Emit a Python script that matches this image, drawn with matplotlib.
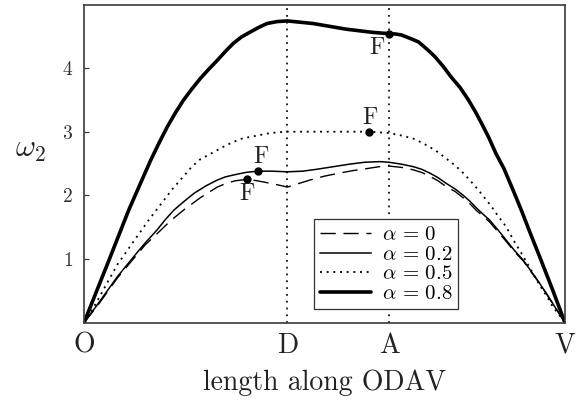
import numpy as np
import matplotlib
matplotlib.use("Agg")
import matplotlib.pyplot as plt

plt.rcParams["font.family"] = "serif"
plt.rcParams["font.serif"] = ["cmr10", "DejaVu Serif"]
plt.rcParams["mathtext.fontset"] = "cm"
plt.rcParams["axes.formatter.use_mathtext"] = True
plt.rcParams["axes.unicode_minus"] = False
plt.rcParams["lines.scale_dashes"] = False

# path ODAV: positions of the corner points along the path
path_ticks = [0.0, 2.0, 3.0, 4.73]
path_labels = ["O", "D", "A", "V"]

# alpha = 0 (dashed)
x_a0 = [0, 0.13, 0.327, 0.49, 0.6, 0.72, 0.85, 0.98, 1.15, 1.31, 1.4, 1.49, 1.6,
        1.7, 1.83, 1.92, 2.0, 2.1, 2.22, 2.36, 2.51, 2.65, 2.78, 2.9, 3.0, 3.12,
        3.24, 3.32, 3.40, 3.48, 3.56, 3.65, 3.73, 3.80, 3.86, 3.92, 3.99, 4.07,
        4.15, 4.23, 4.32, 4.40, 4.48, 4.55, 4.61, 4.67, 4.73]
w_a0 = [0, 0.26, 0.70, 1.01, 1.22, 1.40, 1.60, 1.77, 1.97, 2.13, 2.19, 2.23, 2.25,
        2.23, 2.19, 2.16, 2.13, 2.18, 2.24, 2.30, 2.35, 2.39, 2.42, 2.45, 2.46, 2.44,
        2.40, 2.36, 2.30, 2.23, 2.14, 2.06, 1.96, 1.86, 1.76, 1.68, 1.58, 1.43,
        1.28, 1.12, 0.97, 0.79, 0.62, 0.45, 0.30, 0.15, 0]

# alpha = 0.2 (thin solid)
x_a2 = [0, 0.13, 0.327, 0.49, 0.6, 0.72, 0.8, 0.885, 0.98, 1.08, 1.2, 1.31, 1.39,
        1.47, 1.59, 1.71, 1.85, 2.0, 2.15, 2.29, 2.45, 2.61, 2.76, 2.91, 3.0, 3.12,
        3.24, 3.32, 3.40, 3.48, 3.56, 3.65, 3.73, 3.80, 3.86, 3.92, 3.99, 4.07,
        4.15, 4.23, 4.32, 4.40, 4.48, 4.55, 4.61, 4.67, 4.73]
w_a2 = [0, 0.28, 0.72, 1.04, 1.25, 1.46, 1.62, 1.77, 1.90, 2.03, 2.15, 2.24, 2.29,
        2.32, 2.36, 2.38, 2.38, 2.37, 2.38, 2.41, 2.45, 2.49, 2.52, 2.53, 2.52, 2.49,
        2.45, 2.41, 2.35, 2.28, 2.19, 2.10, 2.00, 1.90, 1.80, 1.71, 1.61, 1.46,
        1.30, 1.14, 0.98, 0.80, 0.62, 0.45, 0.30, 0.15, 0]

# alpha = 0.5 (dotted)
x_a5 = [0, 0.098, 0.327, 0.52, 0.64, 0.75, 0.87, 0.98, 1.06, 1.146, 1.23, 1.31,
        1.39, 1.47, 1.55, 1.64, 1.80, 1.9, 2.0, 2.8, 3.0, 3.12, 3.24, 3.32, 3.40,
        3.48, 3.56, 3.65, 3.73, 3.81, 3.89, 4.0, 4.07, 4.15, 4.23, 4.32, 4.40,
        4.48, 4.55, 4.61, 4.67, 4.73]
w_a5 = [0, 0.25, 0.91, 1.35, 1.62, 1.85, 2.10, 2.30, 2.45, 2.57, 2.64, 2.71,
        2.78, 2.84, 2.89, 2.92, 2.97, 2.99, 3.0, 3.0, 2.98, 2.94, 2.89, 2.83, 2.76,
        2.68, 2.58, 2.47, 2.35, 2.21, 2.06, 1.84, 1.68, 1.51, 1.28, 1.04, 0.82,
        0.59, 0.42, 0.25, 0.13, 0]

# alpha = 0.8 (thick solid)
x_a8 = [0, 0.245, 0.44, 0.55, 0.655, 0.74, 0.82, 0.90, 0.98, 1.06, 1.146, 1.22,
        1.31, 1.39, 1.47, 1.55, 1.64, 1.72, 1.80, 1.9, 2.0, 2.25, 2.58, 2.84, 3.0,
        3.06, 3.12, 3.2, 3.29, 3.37, 3.45, 3.53, 3.61, 3.70, 3.78, 3.85, 3.91,
        3.98, 4.05, 4.13, 4.22, 4.30, 4.39, 4.48, 4.6, 4.73]
w_a8 = [0, 0.98, 1.77, 2.17, 2.55, 2.83, 3.08, 3.30, 3.50, 3.67, 3.84, 3.97,
        4.12, 4.26, 4.39, 4.49, 4.57, 4.64, 4.70, 4.73, 4.74, 4.70, 4.61, 4.56, 4.54,
        4.535, 4.52, 4.47, 4.41, 4.30, 4.18, 4.03, 3.86, 3.69, 3.50, 3.31, 3.13,
        2.91, 2.66, 2.42, 2.08, 1.77, 1.40, 1.04, 0.55, 0]

# points F on each curve
f_x = [1.6, 1.71, 2.8, 3.0]
f_w = [2.25, 2.38, 3.0, 4.54]
f_offsets = [(0, -14), (3, 14), (1, 14), (-12, -14)]

fig = plt.figure(figsize=(5.79, 4.01), dpi=100)
ax = fig.add_axes([0.1451, 0.1953, 0.8307, 0.7922])

for xv in path_ticks[1:3]:
    ax.axvline(xv, color="k", lw=1.2, dashes=(1.3, 3.6), zorder=1)

ax.plot(x_a0, w_a0, color="k", lw=1.0, dashes=(11, 5.5), label=r"$\alpha\,=\,0$")
ax.plot(x_a2, w_a2, color="k", lw=1.1, label=r"$\alpha\,=\,0.2$")
ax.plot(x_a5, w_a5, color="k", lw=1.3, dashes=(1.4, 3.4), label=r"$\alpha\,=\,0.5$")
ax.plot(x_a8, w_a8, color="k", lw=2.6, solid_capstyle="round",
        solid_joinstyle="round", label=r"$\alpha\,=\,0.8$")

ax.plot(f_x, f_w, "o", color="k", ms=5, zorder=5)
for fx, fw, off in zip(f_x, f_w, f_offsets):
    ax.annotate("F", (fx, fw), xytext=off, textcoords="offset pixels",
                ha="center", va="center", fontsize=17, color="#222222")

ax.set_xlim(path_ticks[0], path_ticks[-1])
ax.set_ylim(0, 4.99)
ax.set_xticks(path_ticks)
ax.set_xticklabels(path_labels, fontsize=20)
ax.set_yticks([1, 2, 3, 4])
ax.tick_params(axis="x", length=0, pad=7, colors="#222222")
ax.tick_params(axis="y", direction="in", length=3.5, width=0.9, pad=8,
               labelsize=14, colors="#333333")
for s in ax.spines.values():
    s.set_color("#3a3a3a")
    s.set_linewidth(1.2)

ax.set_xlabel("length along ODAV", fontsize=20, labelpad=8, color="#222222")
ax.set_ylabel(r"$\omega_2$", fontsize=22, rotation=0, color="#222222")
ax.yaxis.set_label_coords(-0.112, 0.50)

leg = ax.legend(loc="lower left", bbox_to_anchor=(0.478, 0.042), fontsize=15,
                handlelength=2.45, labelspacing=0.05, borderpad=0.3,
                handletextpad=0.5, fancybox=False, framealpha=1,
                edgecolor="#333333", borderaxespad=0)
leg.get_frame().set_linewidth(0.9)

plt.savefig("out.png", dpi=100)
